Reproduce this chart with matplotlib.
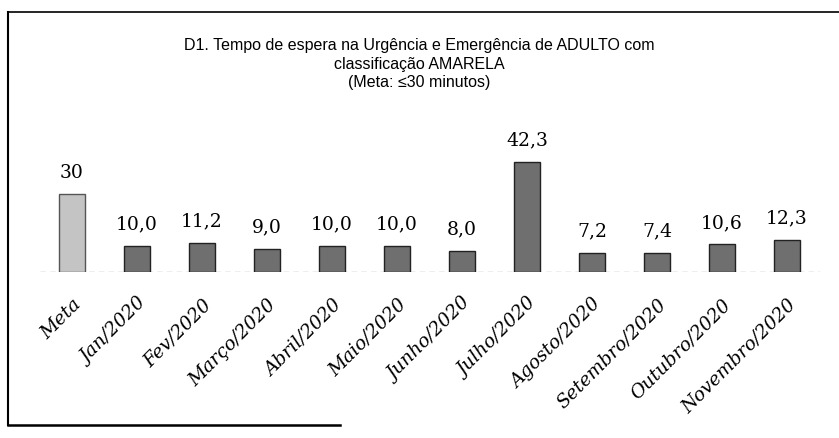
import matplotlib
matplotlib.use("Agg")
import matplotlib.pyplot as plt
from matplotlib.lines import Line2D

categories = ["Meta", "Jan/2020", "Fev/2020", "Março/2020", "Abril/2020", "Maio/2020",
              "Junho/2020", "Julho/2020", "Agosto/2020", "Setembro/2020", "Outubro/2020",
              "Novembro/2020"]
values = [30, 10.0, 11.2, 9.0, 10.0, 10.0, 8.0, 42.3, 7.2, 7.4, 10.6, 12.3]
value_labels = ["30", "10,0", "11,2", "9,0", "10,0", "10,0", "8,0", "42,3", "7,2", "7,4", "10,6", "12,3"]
title = "D1. Tempo de espera na Urgência e Emergência de ADULTO com\nclassificação AMARELA\n(Meta: ≤30 minutos)"

W, H = 839, 438
fig = plt.figure(figsize=(W / 100, H / 100), dpi=100)
fig.patch.set_facecolor("white")

ax = fig.add_axes([39.5 / W, 1 - 272 / H, 780 / W, 130 / H])
x = list(range(len(categories)))
colors = ["#c4c4c4"] + ["#6f6f6f"] * (len(categories) - 1)
edges = ["#555555"] + ["#222222"] * (len(categories) - 1)
ax.bar(x, values, width=0.4, color=colors, edgecolor=edges, linewidth=1.0, zorder=3)
ax.set_xlim(-0.5, len(categories) - 0.5)
ax.set_ylim(0, 50)
for s in ax.spines.values():
    s.set_visible(False)
ax.axhline(0, color="#aaaaaa", lw=1.0, ls=(0, (4, 3)), zorder=2)
ax.set_yticks([])
ax.set_xticks(x)
ax.set_xticklabels(categories, rotation=45, ha="right", va="top", rotation_mode="anchor",
                   fontsize=13.5, family="DejaVu Serif", style="italic")
ax.tick_params(axis="x", length=0, pad=17)
for xi, v, lab in zip(x, values, value_labels):
    ax.annotate(lab, (xi, v), xytext=(0, 9), textcoords="offset points",
                ha="center", va="bottom", fontsize=13.5, family="DejaVu Serif")

fig.text(0.5, 1 - 38 / H, title, ha="center", va="top", fontsize=11.5,
         family=["Liberation Sans", "DejaVu Sans"], linespacing=1.3)

# frame
fig.add_artist(Line2D([8 / W, 8 / W], [1 - 12 / H, 1 - 425 / H], color="black", lw=1.5))
fig.add_artist(Line2D([8 / W, 1.0], [1 - 12 / H, 1 - 12 / H], color="black", lw=1.2))
fig.add_artist(Line2D([8 / W, 340 / W], [1 - 425 / H, 1 - 425 / H], color="black", lw=1.8))

fig.savefig("out.png", dpi=100)
